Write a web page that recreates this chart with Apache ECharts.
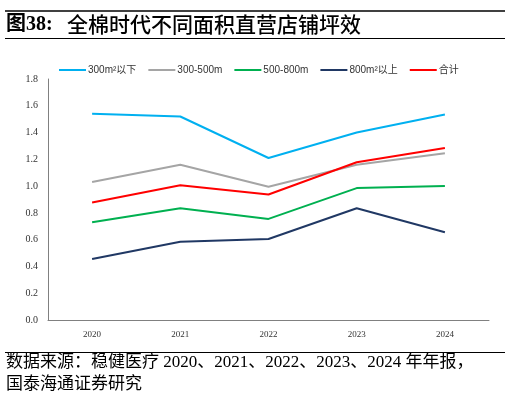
<!DOCTYPE html>
<html lang="zh-CN">
<head>
    <meta charset="UTF-8">
    <title>全棉时代不同面积直营店铺坪效</title>
    <script src="https://cdn.jsdelivr.net/npm/echarts@6/dist/echarts.min.js"></script>
    <style>
        html, body {
            margin: 0;
            padding: 0;
            background: #ffffff;
        }

        #chart {
            width: 512px;
            height: 402px;
        }
    </style>
</head>
<body>
<div id="chart"></div>
<script>
    /*数据*/
    var years = ['2020', '2021', '2022', '2023', '2024'];
    var below300 = [1.54, 1.52, 1.21, 1.40, 1.535];
    var s300to500 = [1.03, 1.16, 0.995, 1.16, 1.245];
    var s500to800 = [0.73, 0.835, 0.755, 0.985, 1.0];
    var above800 = [0.455, 0.585, 0.605, 0.835, 0.655];
    var total = [0.877, 1.007, 0.937, 1.178, 1.284];
    var seriesNames = ['300m²以下', '300-500m', '500-800m', '800m²以上', '合计'];
    var seriesColors = ['#00b0f0', '#a5a5a5', '#00b050', '#203864', '#ff0000'];
    var yTicks = [0, 0.2, 0.4, 0.6, 0.8, 1.0, 1.2, 1.4, 1.6, 1.8];

    var seriesData = [below300, s300to500, s500to800, above800, total];

    var chart = echarts.init(document.getElementById('chart'));
    var option = {
        backgroundColor: '#ffffff',
        animation: false,
        legend: {
            left: 54,
            top: 60,
            itemWidth: 27,
            itemHeight: 2,
            itemGap: 12,
            icon: 'rect',
            textStyle: {
                fontSize: 10,
                color: '#333',
                fontFamily: 'Liberation Sans, Noto Sans CJK SC, sans-serif',
                padding: [0, 0, 0, -3]
            },
            data: seriesNames
        },
        grid: {
            left: 48,
            right: 23,
            top: 79,
            bottom: 82
        },
        xAxis: {
            type: 'category',
            data: years,
            boundaryGap: true,
            axisLine: {lineStyle: {color: '#808080', width: 1}},
            axisTick: {show: false},
            axisLabel: {
                fontSize: 9,
                color: '#333',
                fontFamily: 'Liberation Serif, serif',
                margin: 10
            }
        },
        yAxis: {
            type: 'value',
            min: yTicks[0],
            max: yTicks[yTicks.length - 1],
            interval: 0.2,
            axisLine: {show: true, lineStyle: {color: '#808080', width: 1}},
            axisTick: {show: false},
            splitLine: {show: false},
            axisLabel: {
                fontSize: 10,
                color: '#333',
                fontFamily: 'Liberation Serif, serif',
                margin: 10,
                formatter: function (v) {
                    return v.toFixed(1);
                }
            }
        },
        graphic: [
            {
                type: 'line',
                shape: {x1: 5, y1: 11, x2: 505, y2: 11},
                style: {stroke: '#404040', lineWidth: 2}
            },
            {
                type: 'text',
                left: 6,
                top: 15,
                style: {
                    text: '图38:',
                    font: 'bold 20px "Liberation Serif", "Noto Sans CJK SC", serif',
                    fill: '#000'
                }
            },
            {
                type: 'text',
                left: 67,
                top: 14,
                style: {
                    text: '全棉时代不同面积直营店铺坪效',
                    font: '500 21px "Noto Sans CJK SC", sans-serif',
                    fill: '#000'
                }
            },
            {
                type: 'line',
                shape: {x1: 5, y1: 38.5, x2: 505, y2: 38.5},
                style: {stroke: '#000', lineWidth: 1}
            },
            {
                type: 'line',
                shape: {x1: 5, y1: 352.5, x2: 505, y2: 352.5},
                style: {stroke: '#000', lineWidth: 1}
            },
            {
                type: 'text',
                left: 6,
                top: 352,
                style: {
                    text: '数据来源：稳健医疗 2020、2021、2022、2023、2024 年年报，\n国泰海通证券研究',
                    font: '17px "Liberation Serif", "Noto Sans CJK SC", serif',
                    lineHeight: 22,
                    fill: '#000'
                }
            }
        ],
        series: seriesNames.map(function (name, i) {
            return {
                name: name,
                type: 'line',
                data: seriesData[i],
                symbol: 'none',
                color: seriesColors[i],
                lineStyle: {width: 2, color: seriesColors[i]}
            };
        })
    };
    chart.setOption(option);
</script>
</body>
</html>
